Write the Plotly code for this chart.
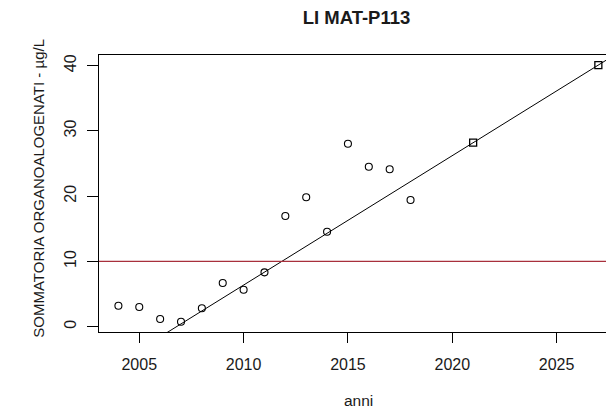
import plotly.graph_objects as go

# Observed data
years = [2004, 2005, 2006, 2007, 2008, 2009, 2010, 2011, 2012, 2013, 2014, 2015, 2016, 2017, 2018]
values = [3.22, 3.02, 1.18, 0.77, 2.82, 6.70, 5.67, 8.33, 16.97, 19.83, 14.56, 28.05, 24.52, 24.12, 19.42]

# Projected values (squares) on the trend line
proj_years = [2021, 2027]
proj_values = [28.2, 40.1]

# Threshold
threshold = 10

x_ticks = [2005, 2010, 2015, 2020, 2025]
y_ticks = [0, 10, 20, 30, 40]

x_range = [2003.07, 2027.75]
y_range = [-0.81, 41.64]

# trend line derived from the projection points, extended over the axis range
slope = (proj_values[1] - proj_values[0]) / (proj_years[1] - proj_years[0])
intercept = proj_values[0] - slope * proj_years[0]
trend_x = [x_range[0], x_range[1]]
trend_y = [intercept + slope * x for x in trend_x]

FONT = "Liberation Sans, Arial, Helvetica, sans-serif"
TXT = "#1a1a1a"

# page body has an 8px margin; figure is sized to fill the rest of the window
W, H = 606, 402

fig = go.Figure()
fig.add_trace(go.Scatter(x=trend_x, y=trend_y, mode="lines",
                         line=dict(color="black", width=1), hoverinfo="skip"))
fig.add_trace(go.Scatter(x=x_range, y=[threshold, threshold], mode="lines",
                         line=dict(color="#a8303c", width=1.3), hoverinfo="skip"))
fig.add_trace(go.Scatter(x=years, y=values, mode="markers",
                         marker=dict(symbol="circle-open", size=7, color="black",
                                     line=dict(width=1.1, color="black"))))
fig.add_trace(go.Scatter(x=proj_years, y=proj_values, mode="markers",
                         marker=dict(symbol="square-open", size=7, color="black",
                                     line=dict(width=1.3, color="black"))))

fig.update_layout(
    width=W, height=H,
    margin=dict(l=91, r=0, t=47, b=78, autoexpand=False),
    paper_bgcolor="white", plot_bgcolor="white",
    showlegend=False,
    font=dict(family=FONT, color=TXT, size=16),
    title=dict(text="<b>LI MAT-P113</b>", x=0.5, xref="paper", xanchor="center",
               y=1 - 10 / H, yref="container", yanchor="middle",
               font=dict(family=FONT, size=18.5, color=TXT)),
    xaxis=dict(range=x_range, tickvals=x_ticks, ticktext=[str(t) for t in x_ticks],
               showgrid=False, zeroline=False, showline=True, linecolor="black",
               linewidth=1, mirror=True, ticks="outside", ticklen=10, tickwidth=1,
               tickcolor="black", ticklabelstandoff=8,
               tickfont=dict(size=16, family=FONT, color=TXT)),
    yaxis=dict(range=y_range, tickvals=y_ticks, ticktext=[str(t) for t in y_ticks],
               showgrid=False, zeroline=False, showline=True, linecolor="black",
               linewidth=1, ticks="outside", ticklen=11, tickwidth=1,
               tickcolor="black", tickangle=-90, ticklabelstandoff=5,
               tickfont=dict(size=16, family=FONT, color=TXT)),
    annotations=[
        dict(text="anni", xref="paper", yref="paper", x=0.503, y=-0.249,
             xanchor="center", yanchor="middle", showarrow=False,
             font=dict(size=15.5, family=FONT, color=TXT)),
        dict(text="SOMMATORIA ORGANOALOGENATI - µg/L", xref="paper", yref="paper",
             x=-0.117, y=0.52, xanchor="center", yanchor="middle", textangle=-90,
             showarrow=False, font=dict(size=15, family=FONT, color=TXT)),
    ],
)

fig.write_html("out.html")
